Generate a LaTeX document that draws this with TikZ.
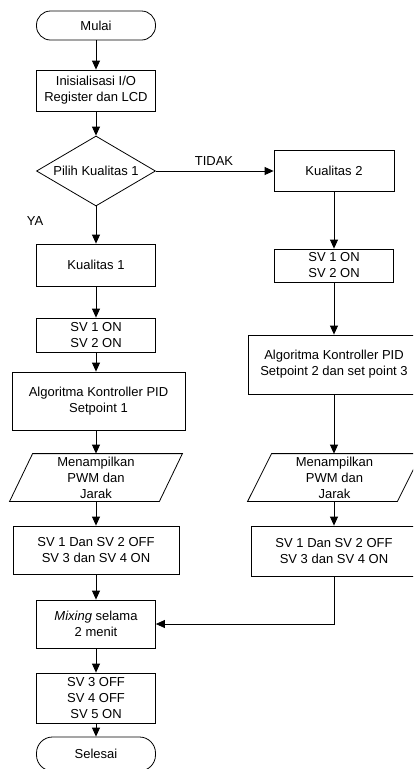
\documentclass[tikz,border=0pt]{standalone}
\usepackage{fontspec}
\setmainfont{Liberation Sans}
\usetikzlibrary{shapes.geometric,arrows.meta,calc}
\begin{document}
\begin{tikzpicture}[x=1pt,y=-1pt,line width=0.8pt,
  txt/.style={font=\fontsize{13}{16}\selectfont},
  box/.style={draw,rectangle,inner sep=0pt,align=center,txt},
  term/.style={box,rounded corners=14pt},
  dec/.style={draw,diamond,inner sep=0pt,shape aspect=1.7,align=center,txt},
  io/.style={rectangle,inner sep=0pt,align=center,txt},
  flow/.style={-{Triangle[length=9pt,width=8pt]}},
  lbl/.style={txt}]
\useasboundingbox (0,0) rectangle (413,769);
\clip (0,0) rectangle (413,769);
% left column
\node[term,minimum width=119pt,minimum height=29pt] (mulai) at (96,25.5) {Mulai};
\node[box,minimum width=119pt,minimum height=41pt] (init) at (96,90.5) {Inisialisasi I/O\\Register dan LCD};
\node[dec,minimum width=119pt,minimum height=70pt] (dia) at (96,171) {Pilih Kualitas 1};
\node[box,minimum width=119pt,minimum height=42pt] (kual1) at (96,265) {Kualitas 1};
\node[box,minimum width=119pt,minimum height=34pt] (svL) at (96,335) {SV 1 ON\\SV 2 ON};
\node[box,minimum width=173pt,minimum height=58pt] (algL) at (98.5,401) {Algoritma Kontroller PID\\Setpoint 1};
\node[io,minimum width=149pt,minimum height=47pt] (menL) at (96,477.5) {Menampilkan\\PWM dan\\Jarak};
\draw ($(menL.north west)+(11.5,0)$) -- ($(menL.north east)+(11.5,0)$) -- ($(menL.south east)+(-11.5,0)$) -- ($(menL.south west)+(-11.5,0)$) -- cycle;
\node[box,minimum width=166pt,minimum height=48pt] (offL) at (96,550) {SV 1 Dan SV 2 OFF\\SV 3 dan SV 4 ON};
\node[box,minimum width=119pt,minimum height=48pt] (mix) at (96,624) {\textit{Mixing} selama\\2 menit};
\node[box,minimum width=119pt,minimum height=50pt] (sv345) at (96,698) {SV 3 OFF\\SV 4 OFF\\SV 5 ON};
\node[box,rounded corners=16pt,minimum width=119pt,minimum height=34pt] (selesai) at (96,754) {Selesai};
% right column
\node[box,minimum width=120pt,minimum height=41pt] (kual2) at (334,170.5) {Kualitas 2};
\node[box,minimum width=119pt,minimum height=33pt] (svR) at (334,265.5) {SV 1 ON\\SV 2 ON};
\node[box,minimum width=172pt,minimum height=59pt] (algR) at (334,364.5) {Algoritma Kontroller PID\\Setpoint 2 dan set point 3};
\node[io,minimum width=149pt,minimum height=47pt] (menR) at (334.5,477.5) {Menampilkan\\PWM dan\\Jarak};
\draw ($(menR.north west)+(12,0)$) -- ($(menR.north east)+(12,0)$) -- ($(menR.south east)+(-12,0)$) -- ($(menR.south west)+(-12,0)$) -- cycle;
\node[box,minimum width=166pt,minimum height=50pt] (offR) at (334,551) {SV 1 Dan SV 2 OFF\\SV 3 dan SV 4 ON};
% labels
\node[lbl] (ya) at (35,221) {YA};
\node[lbl] (tidak) at (214,161) {TIDAK};
% connectors
\draw[flow] (mulai) -- (init);
\draw[flow] (init) -- (dia);
\draw[flow] (dia.south) -- (kual1);
\draw[flow] (kual1) -- (svL);
\draw[flow] (svL.south) -- (svL.south |- algL.north);
\draw[flow] (algL.south -| menL.north) -- (menL.north);
\draw[flow] (menL) -- (offL);
\draw[flow] (offL) -- (mix);
\draw[flow] (mix) -- (sv345);
\draw[flow] (sv345) -- (selesai);
\draw[flow] (dia.east) -- (dia.east -| kual2.west);
\draw[flow] (kual2) -- (svR);
\draw[flow] (svR) -- (svR.south |- algR.north);
\draw[flow] (algR.south) -- (algR.south |- menR.north);
\draw[flow] (menR.south -| offR.north) -- (offR.north);
\draw[flow] (offR.south) |- (mix.east);
\end{tikzpicture}
\end{document}
